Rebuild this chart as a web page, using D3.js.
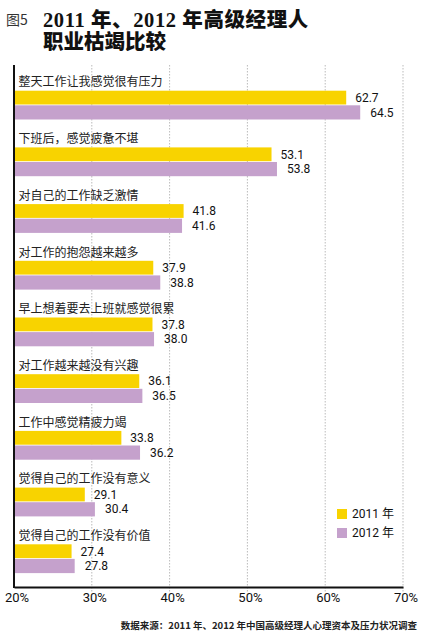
<!DOCTYPE html>
<html><head><meta charset="utf-8">
<script src="https://cdn.jsdelivr.net/npm/d3@7/dist/d3.min.js"></script>
<style>
body{margin:0;background:#fff;}
svg{display:block;}
</style></head>
<body>
<svg id="c" width="423" height="639"></svg>
<script>
const categories = ["整天工作让我感觉很有压力","下班后，感觉疲惫不堪","对自己的工作缺乏激情","对工作的抱怨越来越多","早上想着要去上班就感觉很累","对工作越来越没有兴趣","工作中感觉精疲力竭","觉得自己的工作没有意义","觉得自己的工作没有价值"];
const values2011 = [62.7,53.1,41.8,37.9,37.8,36.1,33.8,29.1,27.4];
const values2012 = [64.5,53.8,41.6,38.8,38.0,36.5,36.2,30.4,27.8];
const seriesNames = ["2011 年","2012 年"];
const xTicks = [20,30,40,50,60,70];

const yellow = "#F8D300", purple = "#C5A1CC";
const svg = d3.select("#c");
const cjk = "'Noto Sans CJK SC', sans-serif";
const num = "Roboto, 'Noto Sans CJK SC', sans-serif";

const x = d3.scaleLinear().domain([20,70]).range([14,403]);
const y = d3.scaleBand().domain(categories).range([90.7, 90.7 + 9*56.7]).padding(0);
const plotTop = 65, plotBottom = 587;

// title
svg.append("text").attr("x",6).attr("y",25).attr("font-family",cjk).attr("font-size",14).attr("fill","#333").text("图5");
const tf = "'Liberation Serif', 'Noto Sans CJK SC', serif";
svg.append("text").attr("x",43).attr("y",27).attr("font-family",tf).attr("font-weight",900).attr("font-size",20.5).attr("letter-spacing",0.6).attr("fill","#111").text("2011 年、2012 年高级经理人");
svg.append("text").attr("x",43).attr("y",48.5).attr("font-family",tf).attr("font-weight",900).attr("font-size",20.5).attr("fill","#111").text("职业枯竭比较");

// gridlines
svg.append("g").selectAll("line").data(xTicks.slice(1)).join("line")
  .attr("x1",d=>x(d)).attr("x2",d=>x(d)).attr("y1",plotTop).attr("y2",plotBottom+5)
  .attr("stroke","#aaa").attr("stroke-width",0.8).attr("stroke-dasharray","1.5,1.5");

// bars
const bh = 13.8;
const g = svg.append("g");
categories.forEach((c,i)=>{
  const y0 = y(c);
  g.append("text").attr("x",18.5).attr("y",y0-4.3).attr("font-family",cjk).attr("font-size",12).attr("fill","#222").text(c);
  g.append("rect").attr("x",x(20)).attr("y",y0).attr("width",x(values2011[i])-x(20)).attr("height",bh).attr("fill",yellow);
  g.append("rect").attr("x",x(20)).attr("y",y0+14.6).attr("width",x(values2012[i])-x(20)).attr("height",bh+0.4).attr("fill",purple);
  g.append("text").attr("x",x(values2011[i])+9).attr("y",y0+bh/2).attr("dy","0.36em").attr("font-family",num).attr("font-size",12).attr("fill","#111").text(values2011[i].toFixed(1));
  g.append("text").attr("x",x(values2012[i])+10).attr("y",y0+14.6+bh/2).attr("dy","0.36em").attr("font-family",num).attr("font-size",12).attr("fill","#111").text(values2012[i].toFixed(1));
});

// axes
const ax = svg.append("g").attr("transform",`translate(0,${plotBottom})`)
  .call(d3.axisBottom(x).tickValues(xTicks).tickSize(0).tickFormat(d=>d+"%"));
ax.select(".domain").attr("stroke","#111").attr("stroke-width",2);
ax.selectAll("text").attr("font-family",num).attr("font-size",13).attr("fill","#111").attr("dx",2.5).attr("dy","0.95em");
svg.append("line").attr("x1",x(20)).attr("x2",x(20)).attr("y1",plotTop).attr("y2",plotBottom+1).attr("stroke","#111").attr("stroke-width",2);

// legend
const leg = svg.append("g");
[yellow,purple].forEach((col,i)=>{
  leg.append("rect").attr("x",337).attr("y",509+i*19).attr("width",10).attr("height",10).attr("fill",col);
  leg.append("text").attr("x",352).attr("y",514+i*19).attr("dy","0.36em").attr("font-family",num).attr("font-size",12).attr("fill","#111").text(seriesNames[i]);
});

// source
svg.append("text").attr("x",417).attr("y",629).attr("text-anchor","end").attr("font-family",cjk).attr("font-weight",700).attr("font-size",9.5).attr("fill","#222").text("数据来源：2011 年、2012 年中国高级经理人心理资本及压力状况调查");
</script>
</body></html>
